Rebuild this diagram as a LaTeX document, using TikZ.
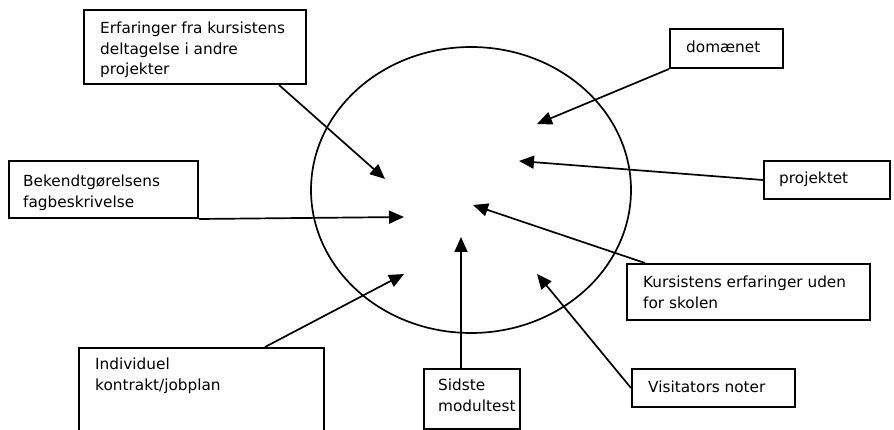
\documentclass[tikz,border=0pt]{standalone}
\usepackage{fontspec}
\setmainfont{DejaVu Sans}
\usetikzlibrary{arrows.meta}
\begin{document}
\begin{tikzpicture}[x=1pt,y=-1pt,
  box/.style={draw,line width=2pt,rectangle,inner sep=0pt,anchor=north west},
  lbl/.style={anchor=north west,inner sep=0pt,align=left,font=\fontsize{15.3}{20.5}\selectfont},
  arr/.style={line width=1.7pt,-{Triangle[length=15pt,width=13pt]}}]
\useasboundingbox (0,0) rectangle (894,430);
\clip (0,0) rectangle (894,430);
% ellipse
\draw[line width=1.7pt] (471,190) ellipse [x radius=160pt, y radius=143pt];
% boxes
\node[box,minimum width=222pt,minimum height=74pt] (erf) at (83,9) {};
\node[box,minimum width=189pt,minimum height=57pt] (bek) at (8,160) {};
\node[box,minimum width=245pt,minimum height=90pt] (ind) at (78,347) {};
\node[box,minimum width=96pt,minimum height=60pt] (sid) at (423,368) {};
\node[box,minimum width=243pt,minimum height=56pt] (kur) at (626,263) {};
\node[box,minimum width=163pt,minimum height=38pt] (vis) at (631,368) {};
\node[box,minimum width=126pt,minimum height=38pt] (pro) at (763,160) {};
\node[box,minimum width=113pt,minimum height=39pt] (dom) at (669,28) {};
% labels
\node[lbl] (terf) at (100,19) {\strut Erfaringer fra kursistens\\deltagelse i andre\\projekter};
\node[lbl] (tbek) at (23,172) {\strut Bekendtgørelsens\\fagbeskrivelse};
\node[lbl] (tind) at (95,355) {\strut Individuel\\kontrakt/jobplan};
\node[lbl] (tsid) at (438,376) {\strut Sidste\\modultest};
\node[lbl] (tkur) at (643,273) {\strut Kursistens erfaringer uden\\for skolen};
\node[lbl] (tvis) at (648,378) {\strut Visitators noter};
\node[lbl] (tpro) at (779,169) {\strut projektet};
\node[lbl] (tdom) at (686,38) {\strut domænet};
% arrow tips
\coordinate (t1) at (385,179);
\coordinate (t2) at (404,217);
\coordinate (t3) at (404,274);
\coordinate (t4) at (461,237);
\coordinate (t5) at (473,205);
\coordinate (t6) at (537,274);
\coordinate (t7) at (519,161);
\coordinate (t8) at (537,124);
% connectors
\draw[arr] ([xshift=-28pt]erf.south east) -- (t1);
\draw[arr] (bek.south east) -- (t2);
\draw[arr] ([xshift=-60pt]ind.north east) -- (t3);
\draw[arr] ([xshift=38pt]sid.north west) -- (t4);
\draw[arr] ([xshift=19pt]kur.north west) -- (t5);
\draw[arr] (vis.west) -- (t6);
\draw[arr] (pro.west) -- (t7);
\draw[arr] (dom.south west) -- (t8);
\end{tikzpicture}
\end{document}
